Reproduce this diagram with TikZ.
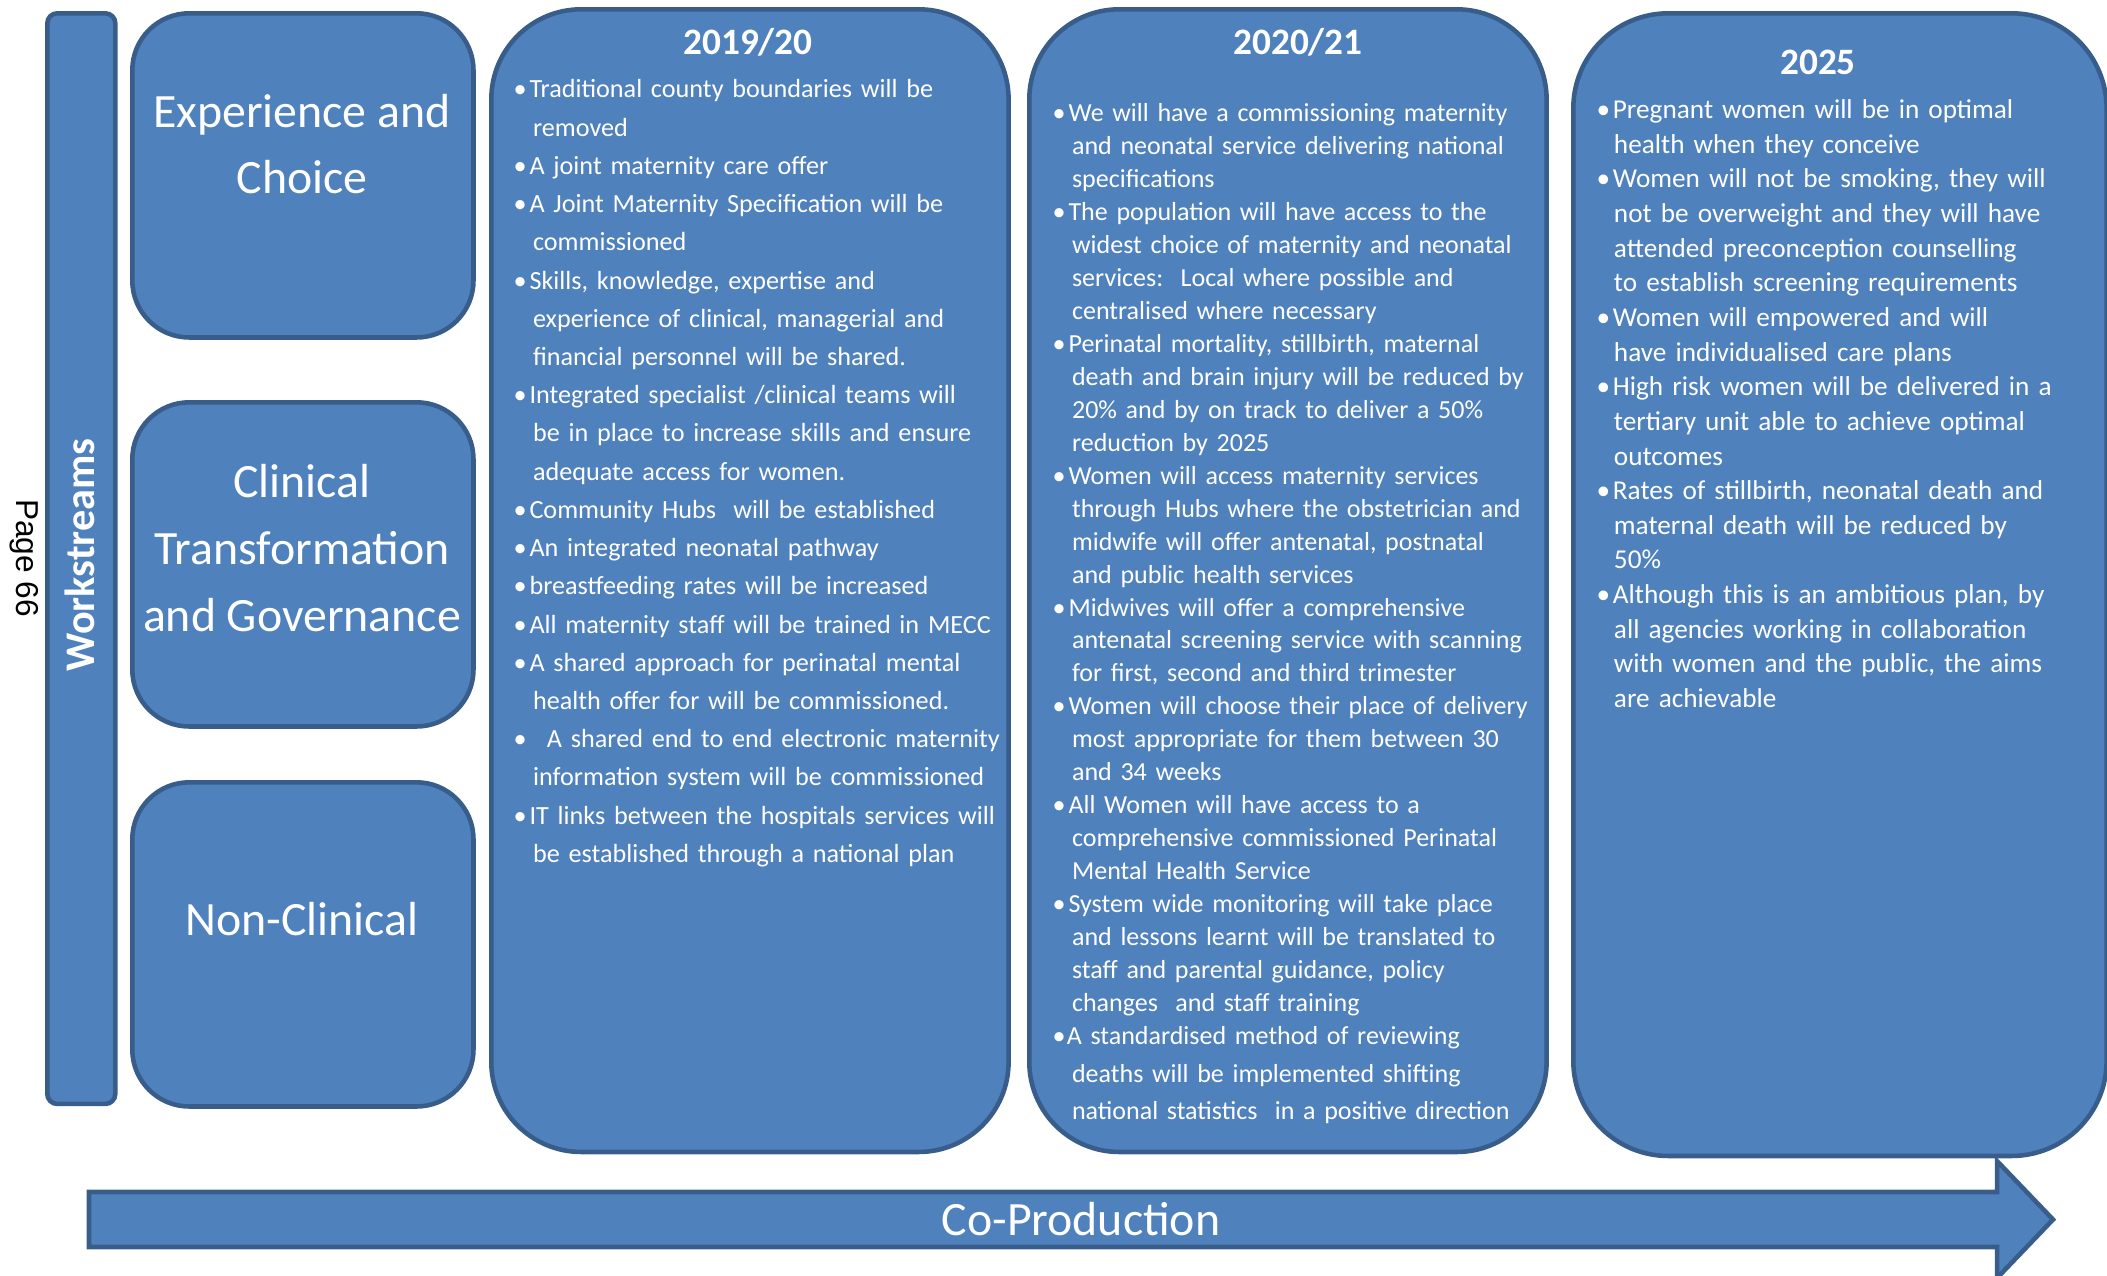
\documentclass[tikz,border=0pt]{standalone}
\usepackage{fontspec}
\setmainfont{Carlito}
\newfontfamily\pagefont{Liberation Sans}
\usepackage{tikz}
\usetikzlibrary{positioning}
\definecolor{planblue}{HTML}{4F81BD}
\definecolor{planedge}{HTML}{385D8A}
\newlength\bulwd
\newlength\cntwd
\newcommand{\bul}{\makebox[\bulwd][l]{\textbullet}}
\newcommand{\cnt}{\hspace*{\cntwd}}
\tikzset{
  panel/.style={draw=planedge,fill=planblue,line width=1.3pt,anchor=north west,inner sep=0pt},
  workbox/.style={panel,rounded corners=0.57cm,minimum width=3.41cm,minimum height=3.24cm},
  yearbox/.style={panel,rounded corners=0.9cm,minimum height=11.42cm},
  boxtitle/.style={text=white,align=center,inner sep=0pt,font=\fontsize{13.6}{19}\selectfont},
  yeartitle/.style={text=white,inner sep=0pt,font=\fontsize{10.6}{13}\selectfont\bfseries},
  points/.style={text=white,anchor=north west,align=left,inner sep=0pt,text width=5.2cm},
  early/.style={points,font=\fontsize{7.45}{10.87}\selectfont\setlength\bulwd{4.5pt}\setlength\cntwd{5.5pt}},
  middle/.style={points,font=\fontsize{7.4}{9.37}\selectfont\setlength\bulwd{4.5pt}\setlength\cntwd{5.5pt}},
  late/.style={points,font=\fontsize{7.75}{9.85}\selectfont\setlength\bulwd{4.6pt}\setlength\cntwd{4.9pt}}
}

\begin{document}
\begin{tikzpicture}[x=0.01cm,y=-0.01cm]
  \useasboundingbox (0,0) rectangle (2107,1275);

  % workstream side bar and the three workstream boxes
  \node[panel,rounded corners=0.1cm,minimum width=0.68cm,minimum height=10.9cm] (wsbar) at (45,11) {};
  \node[text=white,rotate=90,inner sep=0pt,font=\fontsize{12}{14}\selectfont\bfseries] (wstext) at (80,555) {Workstreams};
  \node[rotate=-90,inner sep=0pt,font=\pagefont\fontsize{9}{11}\selectfont] (pagenum) at (24,558) {Page 66};

  \node[workbox] (expbox) at (130,11) {};
  \node[workbox] (clinbox) at (130,400) {};
  \node[workbox] (nonclinbox) at (130,780) {};
  \node[boxtitle] (exptext) at (302,144) {Experience and\\Choice};
  \node[boxtitle] (clintext) at (302,548) {Clinical\\Transformation\\and Governance};
  \node[boxtitle] (nonclintext) at (302,919) {Non-Clinical};

  % the three time columns
  \node[yearbox,minimum width=5.17cm] (col1920) at (489,7) {};
  \node[yearbox,minimum width=5.17cm] (col2021) at (1027,7) {};
  \node[yearbox,minimum width=5.33cm,rounded corners=0.95cm] (col2025) at (1571,11) {};

  \node[yeartitle] (yr1920) at (748,42) {2019/20};
  \node[yeartitle] (yr2021) at (1298,42) {2020/21};
  \node[yeartitle] (yr2025) at (1818,62) {2025};

  \node[early] (list1920) at (513,79) {%
    \bul Traditional county boundaries will be\\
    \cnt removed\\
    \bul A joint maternity care offer\\
    \bul A Joint Maternity Specification will be\\
    \cnt commissioned\\
    \bul Skills, knowledge, expertise and\\
    \cnt experience of clinical, managerial and\\
    \cnt financial personnel will be shared.\\
    \bul Integrated specialist /clinical teams will\\
    \cnt be in place to increase skills and ensure\\
    \cnt adequate access for women.\\
    \bul Community Hubs\ \ will be established\\
    \bul An integrated neonatal pathway\\
    \bul breastfeeding rates will be increased\\
    \bul All maternity staff will be trained in MECC\\
    \bul A shared approach for perinatal mental\\
    \cnt health offer for will be commissioned.\\
    \bul\ \ A shared end to end electronic maternity\\
    \cnt information system will be commissioned\\
    \bul IT links between the hospitals services will\\
    \cnt be established through a national plan};

  \node[middle] (list2021) at (1052,103) {%
    \bul We will have a commissioning maternity\\
    \cnt and neonatal service delivering national\\
    \cnt specifications\\
    \bul The population will have access to the\\
    \cnt widest choice of maternity and neonatal\\
    \cnt services:\ \ Local where possible and\\
    \cnt centralised where necessary\\
    \bul Perinatal mortality, stillbirth, maternal\\
    \cnt death and brain injury will be reduced by\\
    \cnt 20\% and by on track to deliver a 50\%\\
    \cnt reduction by 2025\\
    \bul Women will access maternity services\\
    \cnt through Hubs where the obstetrician and\\
    \cnt midwife will offer antenatal, postnatal\\
    \cnt and public health services\\
    \bul Midwives will offer a comprehensive\\
    \cnt antenatal screening service with scanning\\
    \cnt for first, second and third trimester\\
    \bul Women will choose their place of delivery\\
    \cnt most appropriate for them between 30\\
    \cnt and 34 weeks\\
    \bul All Women will have access to a\\
    \cnt comprehensive commissioned Perinatal\\
    \cnt Mental Health Service\\
    \bul System wide monitoring will take place\\
    \cnt and lessons learnt will be translated to\\
    \cnt staff and parental guidance, policy\\
    \cnt changes\ \ and staff training\\
    \makebox[4pt][l]{\textbullet}A standardised method of reviewing\\[1.34pt]
    \cnt deaths will be implemented shifting\\[1.34pt]
    \cnt national statistics\ \ in a positive direction};

  \node[late] (list2025) at (1596,99) {%
    \bul Pregnant women will be in optimal\\
    \cnt health when they conceive\\
    \bul Women will not be smoking, they will\\
    \cnt not be overweight and they will have\\
    \cnt attended preconception counselling\\
    \cnt to establish screening requirements\\
    \bul Women will empowered and will\\
    \cnt have individualised care plans\\
    \bul High risk women will be delivered in a\\
    \cnt tertiary unit able to achieve optimal\\
    \cnt outcomes\\
    \bul Rates of stillbirth, neonatal death and\\
    \cnt maternal death will be reduced by\\
    \cnt 50\%\\
    \bul Although this is an ambitious plan, by\\
    \cnt all agencies working in collaboration\\
    \cnt with women and the public, the aims\\
    \cnt are achievable};

  % co-production arrow along the bottom
  \draw[draw=planedge,fill=planblue,line width=1.3pt]
    (89,1192) -- (1997,1192) -- (1997,1161) -- (2053,1219.5)
    -- (1997,1278) -- (1997,1247) -- (89,1247) -- cycle;
  \node[text=white,inner sep=0pt,font=\fontsize{13.6}{16}\selectfont] (coprod) at (1081,1219) {Co-Production};
\end{tikzpicture}
\end{document}
